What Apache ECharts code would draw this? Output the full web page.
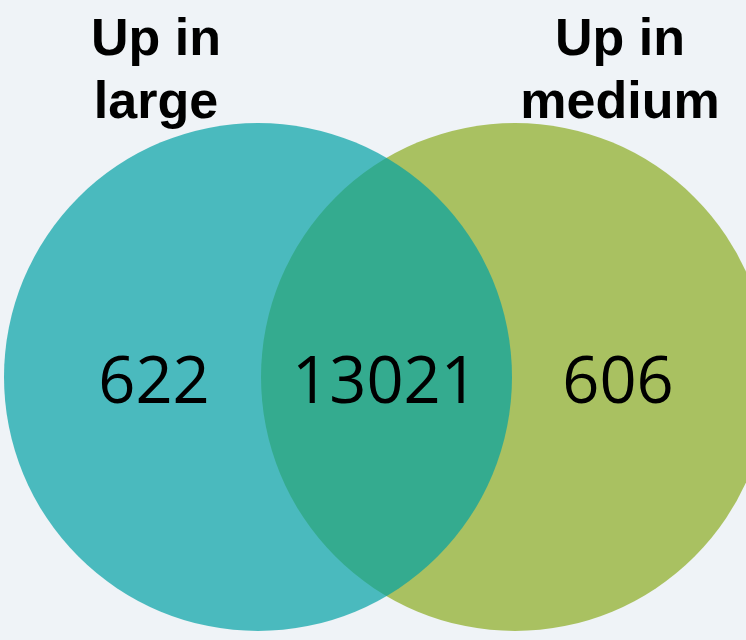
<!DOCTYPE html>
<html>
<head>
<meta charset="utf-8">
<script src="https://cdn.jsdelivr.net/npm/echarts@6/dist/echarts.min.js"></script>
<style>
  html, body { margin: 0; padding: 0; background: #eff3f7; }
  #chart { width: 746px; height: 640px; }
</style>
</head>
<body>
<div id="chart"></div>
<script>
// set names and counts of the two-set Venn diagram
const setNames = ["Up in\nlarge", "Up in\nmedium"];
const onlyCounts = [622, 606];
const sharedCount = 13021;

// layout, in pixels (the axes below map 1 unit to 1 px)
const W = 746, H = 640;
const R = 254;
const circleX = [258, 515];
const circleY = 377;
const countX = [154, 385, 618];
const countY = 384;
const nameX = [156, 620];
const nameY = 72;

const chart = echarts.init(document.getElementById("chart"));

// the right circle is opaque; the left one is drawn above it, semi-transparent
const circleColors = ["rgba(0, 161, 164, 0.69)", "#a9c161"];
const circleData = [1, 0].map((i) => ({
  name: setNames[i],
  value: [circleX[i], circleY],
  itemStyle: { color: circleColors[i], opacity: 1 },
}));

const countData = [
  { value: [countX[0], countY, onlyCounts[0]] },
  { value: [countX[1], countY, sharedCount] },
  { value: [countX[2], countY, onlyCounts[1]] },
];

const nameData = setNames.map((n, i) => ({ name: n, value: [nameX[i], nameY] }));

const option = {
  backgroundColor: "#eff3f7",
  animation: false,
  grid: { left: 0, right: 0, top: 0, bottom: 0 },
  xAxis: { type: "value", min: 0, max: W, show: false },
  yAxis: { type: "value", min: 0, max: H, inverse: true, show: false },
  series: [
    {
      type: "scatter",
      symbol: "circle",
      symbolSize: 2 * R,
      data: circleData,
      itemStyle: { opacity: 1 },
      silent: true,
      z: 1,
    },
    {
      type: "scatter",
      symbolSize: 0,
      data: countData,
      itemStyle: { opacity: 1 },
      silent: true,
      z: 3,
      label: {
        show: true,
        position: "inside",
        formatter: (p) => String(p.value[2]),
        color: "#000",
        fontFamily: "Open Sans",
        fontSize: 65,
      },
    },
    {
      type: "scatter",
      symbolSize: 0,
      data: nameData,
      itemStyle: { opacity: 1 },
      silent: true,
      z: 3,
      label: {
        show: true,
        position: "inside",
        formatter: (p) => p.name,
        color: "#000",
        fontFamily: "Liberation Sans",
        fontWeight: "bold",
        fontSize: 52,
        lineHeight: 63,
        align: "center",
      },
    },
  ],
};

chart.setOption(option);
</script>
</body>
</html>
